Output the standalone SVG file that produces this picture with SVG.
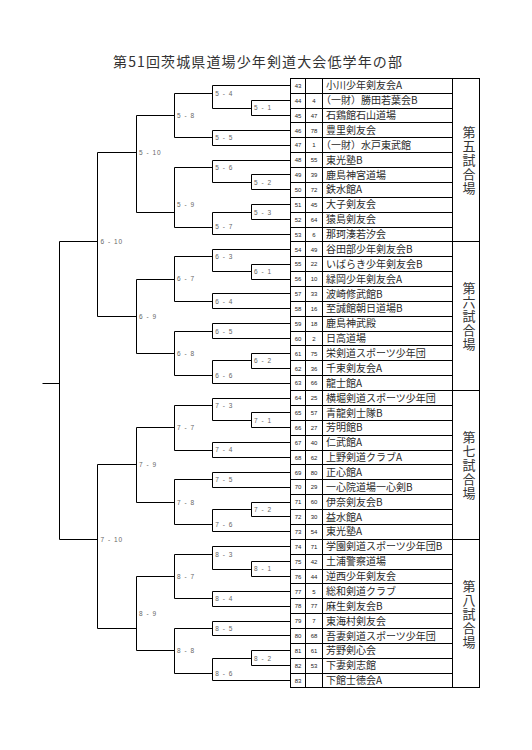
<svg xmlns="http://www.w3.org/2000/svg" width="532" height="750" viewBox="0 0 532 750">
<style>
.ln{fill:none;stroke:#000;stroke-width:1}
.nm{font-family:"Noto Sans CJK JP","Noto Sans",sans-serif;font-size:10px;fill:#2a2a2a}
.no{font-family:"Liberation Sans",Arial,sans-serif;font-size:6px;fill:#222;text-anchor:middle}
.lb{font-family:"Liberation Sans",Arial,sans-serif;font-size:6.5px;letter-spacing:1px;fill:#666}
.ven{font-family:"Noto Sans CJK JP",sans-serif;font-size:13px;letter-spacing:1px;fill:#333;text-anchor:middle;writing-mode:vertical-rl}
.ttl{font-family:"Noto Sans CJK JP",sans-serif;font-size:14px;fill:#333}
</style>
<rect width="532" height="750" fill="#fff"/>
<text class="ttl" x="113" y="67" textLength="289" lengthAdjust="spacing">第51回茨城県道場少年剣道大会低学年の部</text>

<g id="table">
<rect class="ln" x="290.5" y="78.5" width="189" height="609"/>
<path class="ln" d="M305.5 78.5V687.5M322.5 78.5V687.5M452.5 78.5V687.5"/>
<path class="ln" d="M290.5 93.5H452.5M290.5 108.5H452.5M290.5 122.5H452.5M290.5 137.5H452.5M290.5 152.5H452.5M290.5 167.5H452.5M290.5 182.5H452.5M290.5 197.5H452.5M290.5 212.5H452.5M290.5 227.5H452.5M290.5 241.5H479.5M290.5 256.5H452.5M290.5 271.5H452.5M290.5 286.5H452.5M290.5 301.5H452.5M290.5 316.5H452.5M290.5 331.5H452.5M290.5 345.5H452.5M290.5 360.5H452.5M290.5 375.5H452.5M290.5 390.5H479.5M290.5 405.5H452.5M290.5 420.5H452.5M290.5 435.5H452.5M290.5 450.5H452.5M290.5 464.5H452.5M290.5 479.5H452.5M290.5 494.5H452.5M290.5 509.5H452.5M290.5 524.5H452.5M290.5 539.5H479.5M290.5 554.5H452.5M290.5 569.5H452.5M290.5 583.5H452.5M290.5 598.5H452.5M290.5 613.5H452.5M290.5 628.5H452.5M290.5 643.5H452.5M290.5 658.5H452.5M290.5 673.5H452.5"/>
</g>

<g id="venue-5"><text class="ven" x="469" y="160.6">第五試合場</text></g>
<g id="venue-6"><text class="ven" x="469" y="316.7">第六試合場</text></g>
<g id="venue-7"><text class="ven" x="469" y="465.5">第七試合場</text></g>
<g id="venue-8"><text class="ven" x="469" y="614.1">第八試合場</text></g>

<g id="teams">
<g id="team-43" transform="translate(0,85.7)"><text class="no" x="298" y="2.2">43</text><text class="nm" x="326" y="3.6">小川少年剣友会A</text></g>
<g id="team-44" transform="translate(0,100.6)"><text class="no" x="298" y="2.2">44</text><text class="no" x="314" y="2.2">4</text><text class="nm" x="321" y="3.6">（一財）勝田若葉会B</text></g>
<g id="team-45" transform="translate(0,115.5)"><text class="no" x="298" y="2.2">45</text><text class="no" x="314" y="2.2">47</text><text class="nm" x="326" y="3.6">石鶏館石山道場</text></g>
<g id="team-46" transform="translate(0,130.4)"><text class="no" x="298" y="2.2">46</text><text class="no" x="314" y="2.2">78</text><text class="nm" x="326" y="3.6">豊里剣友会</text></g>
<g id="team-47" transform="translate(0,145.2)"><text class="no" x="298" y="2.2">47</text><text class="no" x="314" y="2.2">1</text><text class="nm" x="321" y="3.6">（一財）水戸東武館</text></g>
<g id="team-48" transform="translate(0,160.1)"><text class="no" x="298" y="2.2">48</text><text class="no" x="314" y="2.2">55</text><text class="nm" x="326" y="3.6">東光塾B</text></g>
<g id="team-49" transform="translate(0,175)"><text class="no" x="298" y="2.2">49</text><text class="no" x="314" y="2.2">39</text><text class="nm" x="326" y="3.6">鹿島神宮道場</text></g>
<g id="team-50" transform="translate(0,189.8)"><text class="no" x="298" y="2.2">50</text><text class="no" x="314" y="2.2">72</text><text class="nm" x="326" y="3.6">鉄水館A</text></g>
<g id="team-51" transform="translate(0,204.7)"><text class="no" x="298" y="2.2">51</text><text class="no" x="314" y="2.2">45</text><text class="nm" x="326" y="3.6">大子剣友会</text></g>
<g id="team-52" transform="translate(0,219.6)"><text class="no" x="298" y="2.2">52</text><text class="no" x="314" y="2.2">64</text><text class="nm" x="326" y="3.6">猿島剣友会</text></g>
<g id="team-53" transform="translate(0,234.4)"><text class="no" x="298" y="2.2">53</text><text class="no" x="314" y="2.2">6</text><text class="nm" x="326" y="3.6">那珂湊若汐会</text></g>
<g id="team-54" transform="translate(0,249.3)"><text class="no" x="298" y="2.2">54</text><text class="no" x="314" y="2.2">49</text><text class="nm" x="326" y="3.6">谷田部少年剣友会B</text></g>
<g id="team-55" transform="translate(0,264.2)"><text class="no" x="298" y="2.2">55</text><text class="no" x="314" y="2.2">22</text><text class="nm" x="326" y="3.6">いばらき少年剣友会B</text></g>
<g id="team-56" transform="translate(0,279)"><text class="no" x="298" y="2.2">56</text><text class="no" x="314" y="2.2">10</text><text class="nm" x="326" y="3.6">緑岡少年剣友会A</text></g>
<g id="team-57" transform="translate(0,293.9)"><text class="no" x="298" y="2.2">57</text><text class="no" x="314" y="2.2">33</text><text class="nm" x="326" y="3.6">波崎修武館B</text></g>
<g id="team-58" transform="translate(0,308.8)"><text class="no" x="298" y="2.2">58</text><text class="no" x="314" y="2.2">16</text><text class="nm" x="326" y="3.6">至誠館朝日道場B</text></g>
<g id="team-59" transform="translate(0,323.7)"><text class="no" x="298" y="2.2">59</text><text class="no" x="314" y="2.2">18</text><text class="nm" x="326" y="3.6">鹿島神武殿</text></g>
<g id="team-60" transform="translate(0,338.5)"><text class="no" x="298" y="2.2">60</text><text class="no" x="314" y="2.2">2</text><text class="nm" x="326" y="3.6">日高道場</text></g>
<g id="team-61" transform="translate(0,353.4)"><text class="no" x="298" y="2.2">61</text><text class="no" x="314" y="2.2">75</text><text class="nm" x="326" y="3.6">栄剣道スポーツ少年団</text></g>
<g id="team-62" transform="translate(0,368.3)"><text class="no" x="298" y="2.2">62</text><text class="no" x="314" y="2.2">36</text><text class="nm" x="326" y="3.6">千束剣友会A</text></g>
<g id="team-63" transform="translate(0,383.1)"><text class="no" x="298" y="2.2">63</text><text class="no" x="314" y="2.2">66</text><text class="nm" x="326" y="3.6">龍士館A</text></g>
<g id="team-64" transform="translate(0,398)"><text class="no" x="298" y="2.2">64</text><text class="no" x="314" y="2.2">25</text><text class="nm" x="326" y="3.6">横堀剣道スポーツ少年団</text></g>
<g id="team-65" transform="translate(0,412.9)"><text class="no" x="298" y="2.2">65</text><text class="no" x="314" y="2.2">57</text><text class="nm" x="326" y="3.6">青龍剣士隊B</text></g>
<g id="team-66" transform="translate(0,427.7)"><text class="no" x="298" y="2.2">66</text><text class="no" x="314" y="2.2">27</text><text class="nm" x="326" y="3.6">芳明館B</text></g>
<g id="team-67" transform="translate(0,442.6)"><text class="no" x="298" y="2.2">67</text><text class="no" x="314" y="2.2">40</text><text class="nm" x="326" y="3.6">仁武館A</text></g>
<g id="team-68" transform="translate(0,457.5)"><text class="no" x="298" y="2.2">68</text><text class="no" x="314" y="2.2">62</text><text class="nm" x="326" y="3.6">上野剣道クラブA</text></g>
<g id="team-69" transform="translate(0,472.4)"><text class="no" x="298" y="2.2">69</text><text class="no" x="314" y="2.2">80</text><text class="nm" x="326" y="3.6">正心館A</text></g>
<g id="team-70" transform="translate(0,487.2)"><text class="no" x="298" y="2.2">70</text><text class="no" x="314" y="2.2">29</text><text class="nm" x="326" y="3.6">一心院道場一心剣B</text></g>
<g id="team-71" transform="translate(0,502.1)"><text class="no" x="298" y="2.2">71</text><text class="no" x="314" y="2.2">60</text><text class="nm" x="326" y="3.6">伊奈剣友会B</text></g>
<g id="team-72" transform="translate(0,517)"><text class="no" x="298" y="2.2">72</text><text class="no" x="314" y="2.2">30</text><text class="nm" x="326" y="3.6">益水館A</text></g>
<g id="team-73" transform="translate(0,531.8)"><text class="no" x="298" y="2.2">73</text><text class="no" x="314" y="2.2">54</text><text class="nm" x="326" y="3.6">東光塾A</text></g>
<g id="team-74" transform="translate(0,546.7)"><text class="no" x="298" y="2.2">74</text><text class="no" x="314" y="2.2">71</text><text class="nm" x="326" y="3.6">学園剣道スポーツ少年団B</text></g>
<g id="team-75" transform="translate(0,561.6)"><text class="no" x="298" y="2.2">75</text><text class="no" x="314" y="2.2">42</text><text class="nm" x="326" y="3.6">土浦警察道場</text></g>
<g id="team-76" transform="translate(0,576.4)"><text class="no" x="298" y="2.2">76</text><text class="no" x="314" y="2.2">44</text><text class="nm" x="326" y="3.6">逆西少年剣友会</text></g>
<g id="team-77" transform="translate(0,591.3)"><text class="no" x="298" y="2.2">77</text><text class="no" x="314" y="2.2">5</text><text class="nm" x="326" y="3.6">総和剣道クラブ</text></g>
<g id="team-78" transform="translate(0,606.2)"><text class="no" x="298" y="2.2">78</text><text class="no" x="314" y="2.2">77</text><text class="nm" x="326" y="3.6">麻生剣友会B</text></g>
<g id="team-79" transform="translate(0,621.1)"><text class="no" x="298" y="2.2">79</text><text class="no" x="314" y="2.2">7</text><text class="nm" x="326" y="3.6">東海村剣友会</text></g>
<g id="team-80" transform="translate(0,635.9)"><text class="no" x="298" y="2.2">80</text><text class="no" x="314" y="2.2">68</text><text class="nm" x="326" y="3.6">吾妻剣道スポーツ少年団</text></g>
<g id="team-81" transform="translate(0,650.8)"><text class="no" x="298" y="2.2">81</text><text class="no" x="314" y="2.2">61</text><text class="nm" x="326" y="3.6">芳野剣心会</text></g>
<g id="team-82" transform="translate(0,665.7)"><text class="no" x="298" y="2.2">82</text><text class="no" x="314" y="2.2">53</text><text class="nm" x="326" y="3.6">下妻剣志館</text></g>
<g id="team-83" transform="translate(0,680.5)"><text class="no" x="298" y="2.2">83</text><text class="nm" x="326" y="3.6">下館士徳会A</text></g>
</g>

<g id="connectors" class="ln">
<path d="M290.5 100.5H251.5V115.5H290.5"/>
<path d="M290.5 85.5H212.5V108.5H251.5"/>
<path d="M290.5 130.5H212.5V145.5H290.5"/>
<path d="M212.5 93.5H174.5V137.5H212.5"/>
<path d="M290.5 174.5H251.5V189.5H290.5"/>
<path d="M290.5 160.5H212.5V182.5H251.5"/>
<path d="M290.5 204.5H251.5V219.5H290.5"/>
<path d="M251.5 212.5H212.5V234.5H290.5"/>
<path d="M212.5 167.5H174.5V227.5H212.5"/>
<path d="M174.5 115.5H136.5V212.5H174.5"/>
<path d="M290.5 264.5H251.5V279.5H290.5"/>
<path d="M290.5 249.5H212.5V271.5H251.5"/>
<path d="M290.5 293.5H212.5V308.5H290.5"/>
<path d="M212.5 256.5H174.5V301.5H212.5"/>
<path d="M290.5 323.5H212.5V338.5H290.5"/>
<path d="M290.5 353.5H251.5V368.5H290.5"/>
<path d="M251.5 360.5H212.5V383.5H290.5"/>
<path d="M212.5 331.5H174.5V375.5H212.5"/>
<path d="M174.5 279.5H136.5V353.5H174.5"/>
<path d="M136.5 152.5H97.5V316.5H136.5"/>
<path d="M290.5 412.5H251.5V427.5H290.5"/>
<path d="M290.5 398.5H212.5V420.5H251.5"/>
<path d="M290.5 442.5H212.5V457.5H290.5"/>
<path d="M212.5 405.5H174.5V450.5H212.5"/>
<path d="M290.5 472.5H212.5V487.5H290.5"/>
<path d="M290.5 502.5H251.5V516.5H290.5"/>
<path d="M251.5 509.5H212.5V531.5H290.5"/>
<path d="M212.5 479.5H174.5V524.5H212.5"/>
<path d="M174.5 427.5H136.5V502.5H174.5"/>
<path d="M290.5 561.5H251.5V576.5H290.5"/>
<path d="M290.5 546.5H212.5V569.5H251.5"/>
<path d="M290.5 591.5H212.5V606.5H290.5"/>
<path d="M212.5 554.5H174.5V598.5H212.5"/>
<path d="M290.5 621.5H212.5V635.5H290.5"/>
<path d="M290.5 650.5H251.5V665.5H290.5"/>
<path d="M251.5 658.5H212.5V680.5H290.5"/>
<path d="M212.5 628.5H174.5V673.5H212.5"/>
<path d="M174.5 576.5H136.5V650.5H174.5"/>
<path d="M136.5 464.5H97.5V628.5H136.5"/>
<path d="M97.5 241.5H59.5V539.5H97.5"/>
<path d="M42.5 383.5H59.5"/>
</g>

<g id="matches">
<g id="match-5-1"><text class="lb" x="254" y="110.4">5 - 1</text></g>
<g id="match-5-4"><text class="lb" x="215.3" y="96.4">5 - 4</text></g>
<g id="match-5-5"><text class="lb" x="215.3" y="140.2">5 - 5</text></g>
<g id="match-5-8"><text class="lb" x="177" y="118.4">5 - 8</text></g>
<g id="match-5-2"><text class="lb" x="254" y="184.8">5 - 2</text></g>
<g id="match-5-6"><text class="lb" x="215.3" y="169.9">5 - 6</text></g>
<g id="match-5-3"><text class="lb" x="254" y="214.5">5 - 3</text></g>
<g id="match-5-7"><text class="lb" x="215.3" y="229.4">5 - 7</text></g>
<g id="match-5-9"><text class="lb" x="177" y="206.9">5 - 9</text></g>
<g id="match-5-10"><text class="lb" x="139" y="155.3">5 - 10</text></g>
<g id="match-6-1"><text class="lb" x="254" y="274">6 - 1</text></g>
<g id="match-6-3"><text class="lb" x="215.3" y="259.1">6 - 3</text></g>
<g id="match-6-4"><text class="lb" x="215.3" y="303.6">6 - 4</text></g>
<g id="match-6-7"><text class="lb" x="177" y="281.4">6 - 7</text></g>
<g id="match-6-5"><text class="lb" x="215.3" y="333.5">6 - 5</text></g>
<g id="match-6-2"><text class="lb" x="254" y="363.2">6 - 2</text></g>
<g id="match-6-6"><text class="lb" x="215.3" y="378.1">6 - 6</text></g>
<g id="match-6-8"><text class="lb" x="177" y="355.8">6 - 8</text></g>
<g id="match-6-9"><text class="lb" x="139" y="318.6">6 - 9</text></g>
<g id="match-6-10"><text class="lb" x="100.5" y="244.3">6 - 10</text></g>
<g id="match-7-1"><text class="lb" x="254" y="422.7">7 - 1</text></g>
<g id="match-7-3"><text class="lb" x="215.3" y="407.8">7 - 3</text></g>
<g id="match-7-4"><text class="lb" x="215.3" y="452.4">7 - 4</text></g>
<g id="match-7-7"><text class="lb" x="177" y="430.1">7 - 7</text></g>
<g id="match-7-5"><text class="lb" x="215.3" y="482.2">7 - 5</text></g>
<g id="match-7-2"><text class="lb" x="254" y="511.9">7 - 2</text></g>
<g id="match-7-6"><text class="lb" x="215.3" y="526.8">7 - 6</text></g>
<g id="match-7-8"><text class="lb" x="177" y="504.5">7 - 8</text></g>
<g id="match-7-9"><text class="lb" x="139" y="467.3">7 - 9</text></g>
<g id="match-7-10"><text class="lb" x="100.5" y="541.7">7 - 10</text></g>
<g id="match-8-1"><text class="lb" x="254" y="571.4">8 - 1</text></g>
<g id="match-8-3"><text class="lb" x="215.3" y="556.5">8 - 3</text></g>
<g id="match-8-4"><text class="lb" x="215.3" y="601.2">8 - 4</text></g>
<g id="match-8-7"><text class="lb" x="177" y="578.9">8 - 7</text></g>
<g id="match-8-5"><text class="lb" x="215.3" y="630.9">8 - 5</text></g>
<g id="match-8-2"><text class="lb" x="254" y="660.6">8 - 2</text></g>
<g id="match-8-6"><text class="lb" x="215.3" y="675.5">8 - 6</text></g>
<g id="match-8-8"><text class="lb" x="177" y="653.2">8 - 8</text></g>
<g id="match-8-9"><text class="lb" x="139" y="616">8 - 9</text></g>
</g>
</svg>
